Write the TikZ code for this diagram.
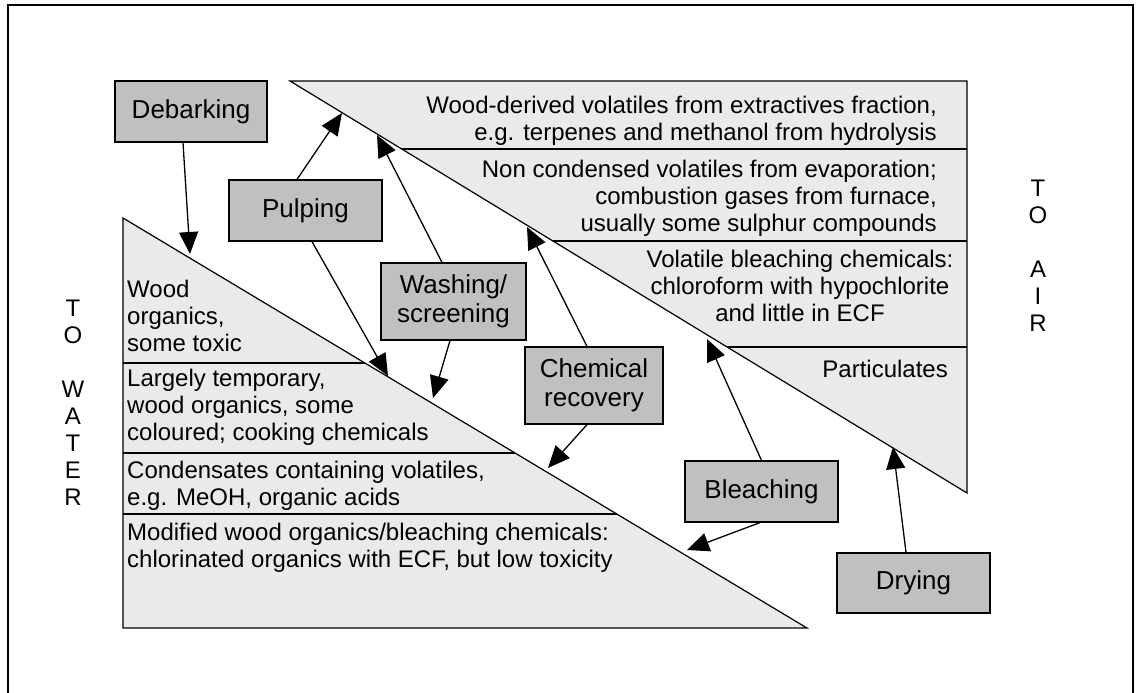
\documentclass[tikz,border=0pt]{standalone}
\usepackage{fontspec}
\setmainfont{Liberation Sans}
\usetikzlibrary{arrows.meta}
\definecolor{panel}{HTML}{EAEAEA}
\definecolor{stagefill}{HTML}{C0C0C0}
\begin{document}
\begin{tikzpicture}[x=1pt,y=-1pt,
  body/.style={font=\fontsize{24}{27}\selectfont, inner sep=0pt},
  stagebox/.style={draw, line width=1.2pt, fill=stagefill, align=center,
    font=\fontsize{26}{28.5}\selectfont, inner sep=0pt},
  wedge/.style={draw, line width=1.2pt, fill=panel},
  divider/.style={line width=1.2pt},
  flow/.style={line width=1.3pt, arrows={-Triangle[length=22pt,width=19pt]}},
]
\useasboundingbox (0,0) rectangle (1136,693);
\clip (0,0) rectangle (1136,693);

% outer frame (open at the bottom)
\draw[line width=2.2pt] (8,700) -- (8,5) -- (1133,5) -- (1133,700);

% emissions to air: upper wedge
\draw[wedge] (290,81) -- (967,81) -- (967,493) -- cycle;
\draw[divider] (401.7,149) -- (967,149);
\draw[divider] (552.9,241) -- (967,241);
\draw[divider] (727.1,347) -- (967,347);

% emissions to water: lower wedge
\draw[wedge] (123,218) -- (123,628) -- (807,628) -- cycle;
\draw[divider] (123,363) -- (364.9,363);
\draw[divider] (123,453) -- (515.0,453);
\draw[divider] (123,514) -- (616.8,514);

% texts of the air wedge
\node[body, align=right, anchor=north east] (air1) at (937,95.5)
  {Wood-derived volatiles from extractives fraction,\\e.g. terpenes and methanol from hydrolysis};
\node[body, align=right, anchor=north east] (air2) at (937,159.5)
  {Non condensed volatiles from evaporation;\\combustion gases from furnace,\hspace*{37pt}\\usually some sulphur compounds};
\node[body, align=center, anchor=north] (air3) at (800,249.5)
  {Volatile bleaching chemicals:\\chloroform with hypochlorite\\and little in ECF};
\node[body, anchor=north east] (air4) at (948,359.5) {Particulates};

% texts of the water wedge
\node[body, align=left, anchor=north west] (wat1) at (127,280)
  {Wood\\organics,\\some toxic};
\node[body, align=left, anchor=north west] (wat2) at (127,368.5)
  {Largely temporary,\\wood organics, some\\coloured; cooking chemicals};
\node[body, align=left, anchor=north west] (wat3) at (127,460.5)
  {Condensates containing volatiles,\\e.g. MeOH, organic acids};
\node[body, align=left, anchor=north west] (wat4) at (127,522.5)
  {Modified wood organics/bleaching chemicals:\\chlorinated organics with ECF, but low toxicity};

% side labels
\node[body, align=center, anchor=north] (toair) at (1038,180) {T\\O\\~\\A\\I\\R};
\node[body, align=center, anchor=north] (towater) at (73,300) {T\\O\\~\\W\\A\\T\\E\\R};

% process stages
\node[stagebox, minimum width=152, minimum height=61] (deb) at (191,111.5) {Debarking};
\node[stagebox, minimum width=153, minimum height=61] (pulp) at (305.5,210.5) {Pulping};
\node[stagebox, minimum width=145, minimum height=77] (wash) at (453.5,301.5) {Washing/\\screening};
\node[stagebox, minimum width=138, minimum height=77] (chem) at (594,385.5) {Chemical\\recovery};
\node[stagebox, minimum width=153, minimum height=61] (bleach) at (761.5,491.5) {Bleaching};
\node[stagebox, minimum width=153, minimum height=60] (dry) at (913.5,583) {Drying};

% points where the flows meet the wedges
\coordinate (w1) at (190,254);
\coordinate (a1) at (342,113);
\coordinate (w2) at (388,376);
\coordinate (a2) at (377,135);
\coordinate (w3) at (433,398);
\coordinate (a3) at (527,227);
\coordinate (w4) at (548,468);
\coordinate (a4) at (707,339);
\coordinate (w5) at (687,550);
\coordinate (a5) at (893,447);

% flows
\draw[flow] ([xshift=-8pt]deb.south) -- (w1);
\draw[flow] ([xshift=-8.5pt]pulp.north) -- (a1);
\draw[flow] ([xshift=6.5pt]pulp.south) -- (w2);
\draw[flow] ([xshift=-11.5pt]wash.north) -- (a2);
\draw[flow] ([xshift=-3.5pt]wash.south) -- (w3);
\draw[flow] ([xshift=-7pt]chem.north) -- (a3);
\draw[flow] ([xshift=-7pt]chem.south) -- (w4);
\draw[flow] (bleach.north) -- (a4);
\draw[flow] ([xshift=-1.5pt]bleach.south) -- (w5);
\draw[flow] ([xshift=-7.5pt]dry.north) -- (a5);
\end{tikzpicture}
\end{document}
